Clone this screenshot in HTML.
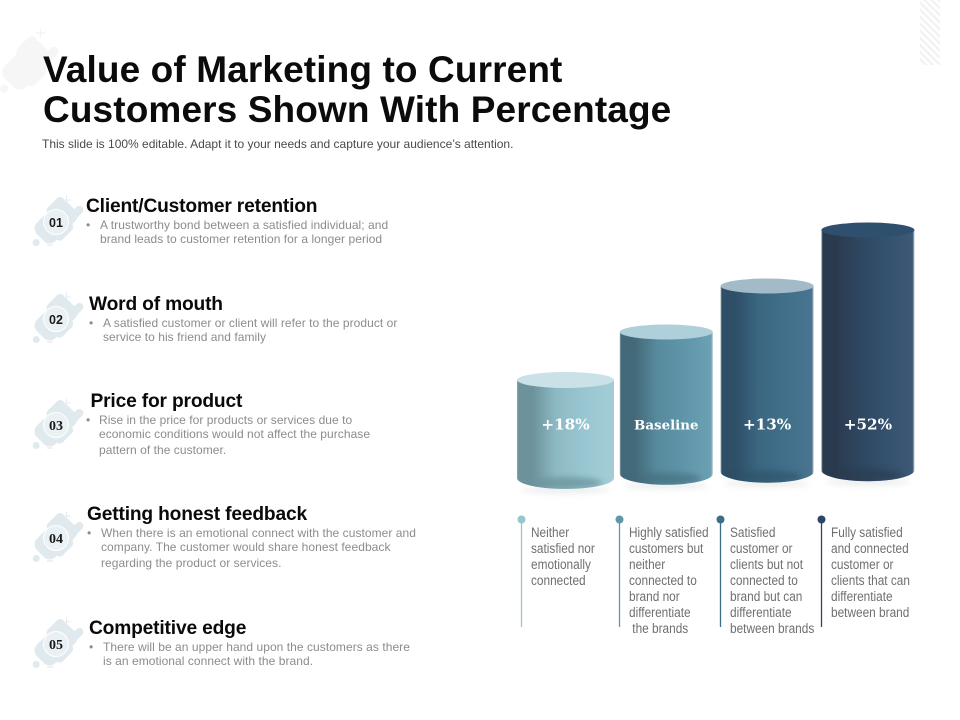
<!DOCTYPE html>
<html lang="en">
<head>
<meta charset="utf-8">
<title>Value of Marketing to Current Customers</title>
<style>
html,body{margin:0;padding:0;background:#fff;}
#slide{position:relative;width:960px;height:720px;overflow:hidden;background:#fff;font-family:"Liberation Sans",Arial,sans-serif;}
#art{position:absolute;left:0;top:0;}
.t{position:absolute;white-space:nowrap;line-height:1;}
.title{font-size:37px;font-weight:bold;color:#0b0b0b;left:43px;letter-spacing:.12px;}
.sub{font-size:12px;color:#4a4a4a;left:42px;}
.h{font-size:19.2px;font-weight:bold;color:#0a0a0a;letter-spacing:-.17px;}
.b{font-size:12px;color:#8c8c8c;letter-spacing:.05px;}
.d{font-family:"Liberation Sans",sans-serif;font-size:13.4px;color:#6f6f6f;transform:scaleX(.884);transform-origin:0 0;}
</style>
</head>
<body>
<div id="slide">
<svg id="art" width="960" height="720" viewBox="0 0 960 720" xmlns="http://www.w3.org/2000/svg">
<defs>
<pattern id="hatch" width="5" height="5" patternUnits="userSpaceOnUse" patternTransform="rotate(45)">
<rect width="5" height="2.4" fill="#f2f2f2"/>
</pattern>
<filter id="soft" x="-30%" y="-100%" width="160%" height="300%"><feGaussianBlur stdDeviation="3"/></filter>
<g id="blob">
<g transform="rotate(-45)">
<rect x="-22" y="-13" width="44" height="26" rx="8"/>
<rect x="0" y="-16" width="22" height="9" rx="4.5"/>
<rect x="8" y="4" width="21" height="8" rx="4"/>
<rect x="-12" y="8" width="22" height="9" rx="4.5"/>
<rect x="-32" y="-3" width="7" height="7" rx="3.5"/>
</g>
</g>
</defs>
<rect x="920" y="0" width="20" height="65" fill="url(#hatch)"/>
<g fill="#f6f6f6" transform="translate(27,65) scale(1.15)"><use href="#blob"/></g>
<path d="M36 33 h9 M40.5 28.5 v9" stroke="#f4f4f4" stroke-width="1.5" fill="none"/>
<g id="badges"></g>
<g id="chart"></g>
<g id="leaders"></g>
</svg>

<div class="t title" style="top:51px">Value of Marketing to Current</div>
<div class="t title" style="top:91px">Customers Shown With Percentage</div>
<div class="t sub" style="top:138px">This slide is 100% editable. Adapt it to your needs and capture your audience’s attention.</div>

<div class="t h" style="left:86px;top:197px">Client/Customer retention</div>
<div class="t b" style="left:86px;top:219px">•</div>
<div class="t b" style="left:100px;top:219px">A trustworthy bond between a satisfied individual; and</div>
<div class="t b" style="left:100px;top:233px">brand leads to customer retention for a longer period</div>

<div class="t h" style="left:89px;top:295px">Word of mouth</div>
<div class="t b" style="left:89px;top:317px">•</div>
<div class="t b" style="left:103px;top:317px">A satisfied customer or client will refer to the product or</div>
<div class="t b" style="left:103px;top:331px">service to his friend and family</div>

<div class="t h" style="left:90.5px;top:392px">Price for product</div>
<div class="t b" style="left:86px;top:414px">•</div>
<div class="t b" style="left:99px;top:414px">Rise in the price for products or services due to</div>
<div class="t b" style="left:99px;top:428px">economic conditions would not affect the purchase</div>
<div class="t b" style="left:99px;top:444px">pattern of the customer.</div>

<div class="t h" style="left:87px;top:505px">Getting honest feedback</div>
<div class="t b" style="left:87px;top:527px">•</div>
<div class="t b" style="left:101px;top:527px">When there is an emotional connect with the customer and</div>
<div class="t b" style="left:101px;top:541px">company. The customer would share honest feedback</div>
<div class="t b" style="left:101px;top:557px">regarding the product or services.</div>

<div class="t h" style="left:89px;top:619px">Competitive edge</div>
<div class="t b" style="left:89px;top:641px">•</div>
<div class="t b" style="left:103px;top:641px">There will be an upper hand upon the customers as there</div>
<div class="t b" style="left:103px;top:655px">is an emotional connect with the brand.</div>

<div id="descs"></div>
</div>

<script>
// Chart data: one value per cylinder
var categories = ["Neither", "Highly", "Satisfied", "Fully"];
var printedLabels = ["+18%", "Baseline", "+13%", "+52%"];
var cylinderLevels = [100, 148, 194, 250];

var descriptionLines = [
  ["Neither", "satisfied nor", "emotionally", "connected"],
  ["Highly satisfied", "customers but", "neither", "connected to", "brand nor", "differentiate", "\u00a0the brands"],
  ["Satisfied", "customer or", "clients but not", "connected to", "brand but can", "differentiate", "between brands"],
  ["Fully satisfied", "and connected", "customer or", "clients that can", "differentiate", "between brand"]
];
var badgeLabels = ["01", "02", "03", "04", "05"];

var SVGNS = "http://www.w3.org/2000/svg";
var palettes = [
  {a:"#6c939c", b:"#8db9c3", c:"#98c6d0", d:"#a3cdd6", top:"#c9e1e7", dot:"#96c7d1"},
  {a:"#436a79", b:"#578a9d", c:"#5f95a9", d:"#6ca0b3", top:"#afcfda", dot:"#5f97aa"},
  {a:"#2e4f67", b:"#3a6680", c:"#406f8a", d:"#4a748f", top:"#a3bbc9", dot:"#3f6c87"},
  {a:"#2b3b4f", b:"#2e4660", c:"#33506d", d:"#3d5975", top:"#2f4f6e", dot:"#2d4668"}
];

function yScale(v) { return 480 - v; }
function xCenter(i) { return 565.5 + 100.8 * i; }
function bandWidth(i) { return i === 0 ? 97 : 93; }
function baseLow(v) { return 476 + 1300 / v; }

function svgEl(tag, attrs, parent) {
  var el = document.createElementNS(SVGNS, tag);
  for (var k in attrs) { el.setAttribute(k, attrs[k]); }
  parent.appendChild(el);
  return el;
}

var chart = document.getElementById("chart");
var defs = document.querySelector("#art defs");

cylinderLevels.forEach(function (v, i) {
  var p = palettes[i];
  var cx = xCenter(i), w = bandWidth(i), x0 = cx - w / 2, x1 = cx + w / 2;
  var topY = yScale(v), ryTop = 7.5, ryBot = 11;
  var low = baseLow(v), botY = low - ryBot;

  var grad = svgEl("linearGradient", {id: "cyl" + i, x1: "0", x2: "1", y1: "0", y2: "0"}, defs);
  [[0, "#8fa5ad"], [0.015, p.a], [0.16, p.a], [0.4, p.b], [0.68, p.c], [0.98, p.d], [1, "#b4c6ce"]].forEach(function (s) {
    svgEl("stop", {offset: s[0], "stop-color": s[1]}, grad);
  });
  var clip = svgEl("clipPath", {id: "cylClip" + i}, defs);
  var d = "M" + x0 + " " + topY + " L" + x0 + " " + botY +
          " A" + (w / 2) + " " + ryBot + " 0 0 0 " + x1 + " " + botY +
          " L" + x1 + " " + topY + " Z";
  svgEl("path", {d: d}, clip);

  var group = svgEl("g", {}, chart);
  
  

  var ground = svgEl("ellipse", {cx: cx, cy: low + 1, rx: w / 2 - 4, ry: 3.5, fill: "#a8b0b4", opacity: 0.22, filter: "url(#soft)"}, group);
  
  

  var body = svgEl("path", {d: d, fill: "url(#cyl" + i + ")"}, group);
  
  

  var inner = svgEl("g", {"clip-path": "url(#cylClip" + i + ")"}, group);
  var shade = svgEl("ellipse", {cx: cx, cy: low - 6, rx: w / 2 - 12, ry: 6, fill: p.a, opacity: i === 0 ? 0.75 : 0.6, filter: "url(#soft)"}, inner);
  
  

  var cap = svgEl("ellipse", {cx: cx, cy: topY, rx: w / 2, ry: ryTop + (i === 0 ? 0.5 : 0), fill: p.top}, group);
  
  

  var label = svgEl("text", {x: cx, y: 429.5, "text-anchor": "middle", fill: "#ffffff",
    "font-family": '"DejaVu Serif", "Liberation Serif", serif', "font-weight": "bold",
    "font-size": printedLabels[i].length > 5 ? "13.4" : "15.2"}, group);
  label.textContent = printedLabels[i];
  
  
});

// description columns
var leaders = document.getElementById("leaders");
var descs = document.getElementById("descs");
var laneX = [521.5, 619.5, 720.5, 821.5];
descriptionLines.forEach(function (lines, i) {
  var stem = svgEl("line", {x1: laneX[i], x2: laneX[i], y1: 520, y2: 627, stroke: palettes[i].dot, "stroke-width": 1.3}, leaders);
  
  
  var dot = svgEl("circle", {cx: laneX[i], cy: 519.5, r: 4, fill: palettes[i].dot}, leaders);
  
  
  lines.forEach(function (txt, n) {
    var el = document.createElement("div");
    el.className = "t d";
    el.style.left = (laneX[i] + 9) + "px";
    el.style.top = (526 + 16 * n) + "px";
    el.textContent = txt;
    
    
    descs.appendChild(el);
  });
});

// numbered badges
var badges = document.getElementById("badges");
var badgeY = [222, 319, 425, 538, 644];
badgeLabels.forEach(function (txt, i) {
  var g = svgEl("g", {transform: "translate(56," + badgeY[i] + ")"}, badges);
  
  
  var art = svgEl("g", {fill: "#dfe9ee"}, g);
  svgEl("use", {href: "#blob"}, art);
  svgEl("path", {d: "M6 -22 h9 M10.5 -26.5 v9", stroke: "#e8ebed", "stroke-width": 1, fill: "none"}, g);
  svgEl("path", {d: "M-9 23 h6", stroke: "#dfe3e5", "stroke-width": 1, fill: "none"}, g);
  svgEl("circle", {cx: 0, cy: 0, r: 12.5, fill: "#eaf1f4", stroke: "#ffffff", "stroke-width": 1}, g);
  var label = svgEl("text", {x: 0, y: 4.8, "text-anchor": "middle", fill: "#1a1a1a",
    "font-family": i < 2 ? '"Liberation Sans", sans-serif' : '"Liberation Serif", serif',
    "font-weight": "bold", "font-size": i < 2 ? "12.5" : "14"}, g);
  label.textContent = txt;
  
  
});
</script>
</body>
</html>
